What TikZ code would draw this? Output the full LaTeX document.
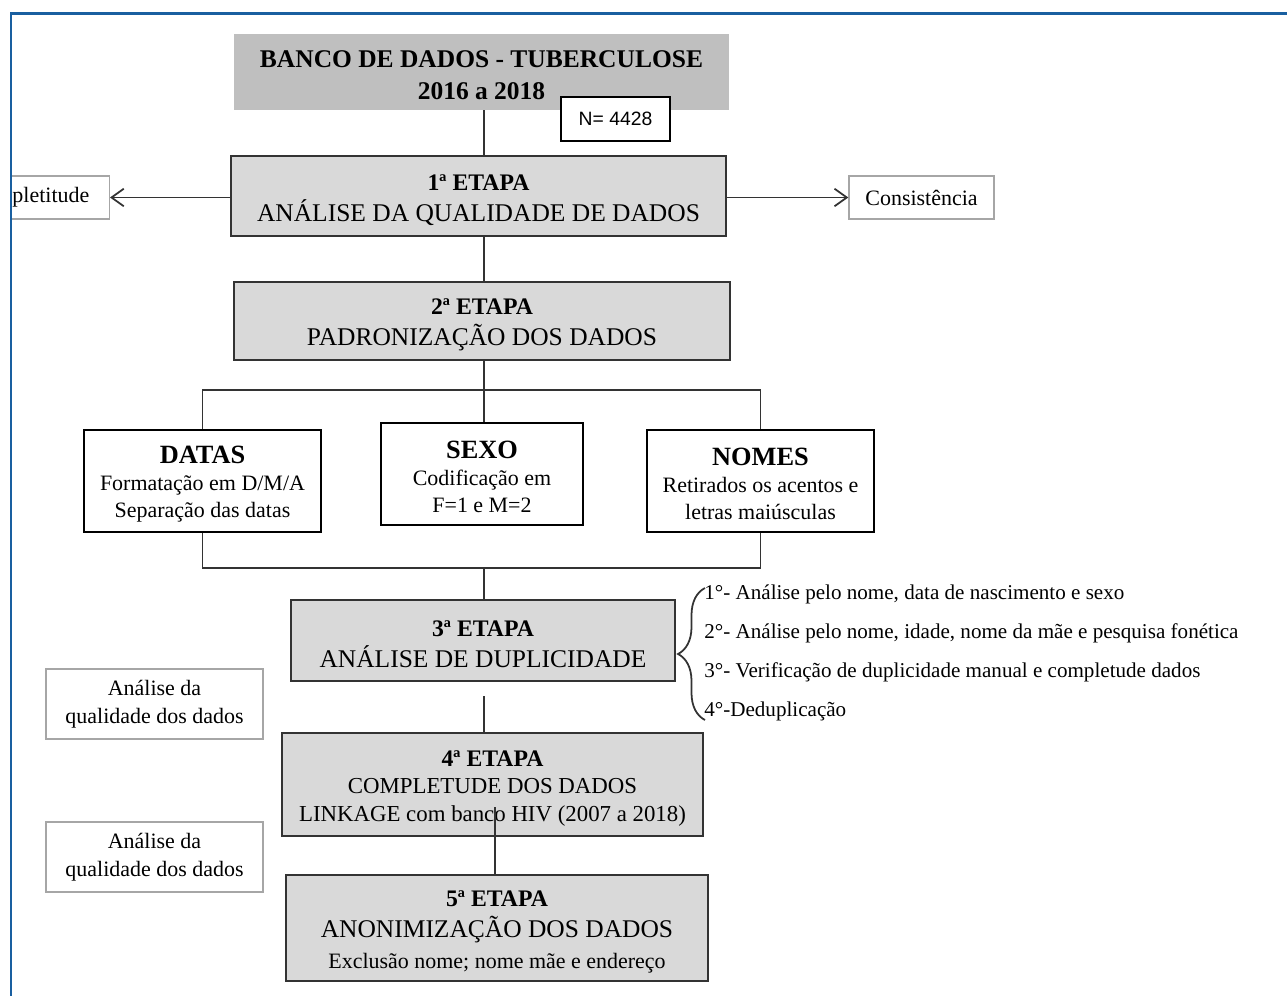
\documentclass[tikz,border=0pt]{standalone}
\usepackage{fontspec}
\setmainfont{Liberation Serif}
\newfontfamily\arialfont{Liberation Sans}
\usetikzlibrary{arrows.meta,decorations.pathreplacing}
\definecolor{moldura}{RGB}{25,95,160}
\newcommand\tam[2]{\fontsize{#1}{#2}\selectfont}
\newcommand\desce{\rule{0pt}{13.5pt}}
\tikzset{
  etapa/.style={draw=black!80,fill=gray!30,line width=1.1pt,align=center,inner sep=0pt,font=\tam{14.5}{17.5}},
  item/.style={draw=black,fill=white,line width=1.1pt,align=center,inner sep=0pt,font=\tam{12.5}{15.5}},
  lateral/.style={draw=black!35,line width=0.8pt,align=center,inner sep=0pt,font=\tam{12.5}{16}},
  liga/.style={draw=black!80,line width=1pt},
  seta/.style={liga,-{Straight Barb[length=7pt,width=10pt]}},
  passo/.style={anchor=west,inner sep=0pt,font=\tam{12}{14}}
}
\begin{document}
\begin{tikzpicture}[x=0.02cm,y=-0.02cm]
\useasboundingbox (0,0) rectangle (1287,996);
% moldura
\draw[moldura,line width=1.4pt] (11,996)--(11,13.5)--(1287,13.5);
\coordinate (eixo) at (484,0);
% banco e etapas
\node[fill=gray!50,minimum width=9.9cm,minimum height=1.52cm,align=center,font=\bfseries\tam{14.5}{18}] (banco) at (481.5,72) {\desce BANCO DE DADOS - TUBERCULOSE\\2016 a 2018};
\node[draw,line width=0.9pt,fill=white,minimum width=2.18cm,minimum height=0.88cm,font=\arialfont\tam{11}{13}] (n) at (615.5,119) {N= 4428};
\node[etapa,minimum width=9.9cm,minimum height=1.6cm] (e1) at (478.5,196) {{\bfseries\tam{13.5}{17.5}\desce 1ª ETAPA}\\ANÁLISE DA QUALIDADE DE DADOS};
\node[etapa,minimum width=9.92cm,minimum height=1.56cm] (e2) at (482,321) {{\bfseries\tam{13.5}{17.5}\desce 2ª ETAPA}\\PADRONIZAÇÃO DOS DADOS};
\node[etapa,minimum width=7.68cm,minimum height=1.62cm] (e3) at (483,640.5) {{\bfseries\tam{13.5}{17.5}\desce 3ª ETAPA}\\ANÁLISE DE DUPLICIDADE};
\node[etapa,minimum width=8.42cm,minimum height=2.06cm,font=\tam{13}{15.5}] (e4) at (492.5,784.5) {{\bfseries\tam{13.5}{15.5}\desce 4ª ETAPA}\\COMPLETUDE DOS DADOS\\LINKAGE com banco HIV (2007 a 2018)};
\node[etapa,minimum width=8.44cm,minimum height=2.12cm] (e5) at (497,928) {{\bfseries\tam{13.5}{17.5}\desce 5ª ETAPA}\\ANONIMIZAÇÃO DOS DADOS\\{\tam{12.5}{17.5}Exclusão nome; nome mãe e endereço}};
% padronizacao
\node[item,minimum width=4.74cm,minimum height=2.04cm] (datas) at (202.5,481) {{\bfseries\tam{15}{16.5}\desce DATAS}\\Formatação em D/M/A\\Separação das datas};
\node[item,minimum width=4.04cm,minimum height=2.04cm] (sexo) at (482,474) {{\bfseries\tam{15}{17.5}\desce SEXO}\\Codificação em\\F=1 e M=2};
\node[item,minimum width=4.54cm,minimum height=2.04cm] (nomes) at (760.5,481) {{\bfseries\tam{15}{17}\desce NOMES}\\Retirados os acentos e\\letras maiúsculas};
% laterais
\begin{scope}
\clip (12,0) rectangle (1287,996);
\node[lateral,anchor=east,minimum height=0.86cm,inner xsep=0.4cm] (compl) at (110,197.5) {Completitude};
\end{scope}
\node[lateral,minimum width=2.9cm,minimum height=0.86cm] (cons) at (921.5,197.5) {Consistência};
\node[lateral,minimum width=4.34cm,minimum height=1.4cm] (q1) at (154.5,704) {Análise da\\qualidade dos dados};
\node[lateral,minimum width=4.34cm,minimum height=1.4cm] (q2) at (154.5,857) {Análise da\\qualidade dos dados};
% ligacoes
\draw[liga] (banco.south -| eixo) -- (e1.north -| eixo);
\draw[seta] (e1.west |- compl) -- (compl.east);
\draw[seta] (e1.east |- cons) -- (cons.west);
\draw[liga] (e1.south -| eixo) -- (e2.north -| eixo);
\draw[liga] (e2.south -| eixo) -- (sexo.north -| eixo);
\coordinate (j1) at (484,390);
\coordinate (j2) at (484,568);
\draw[liga] (datas.north) |- (j1) -| (nomes.north);
\draw[liga] (datas.south) |- (j2) -| (nomes.south);
\draw[liga] (j2) -- (e3.north -| j2);
\coordinate (g3) at (484,696);
\draw[liga] (g3) -- (g3 |- e4.north);
\coordinate (g4) at (495,807);
\draw[liga] (g4) -- (g4 |- e5.north);
% deduplicacao
\draw[liga,decorate,decoration={brace,amplitude=0.54cm}] (705,720) -- (705,588);
\node[passo] (p1) at (704,594) {1°- Análise pelo nome, data de nascimento e sexo};
\node[passo] (p2) at (704,633) {2°- Análise pelo nome, idade, nome da mãe e pesquisa fonética};
\node[passo] (p3) at (704,672) {3°- Verificação de duplicidade manual e completude dados};
\node[passo] (p4) at (704,711) {4°-Deduplicação};
\end{tikzpicture}
\end{document}
